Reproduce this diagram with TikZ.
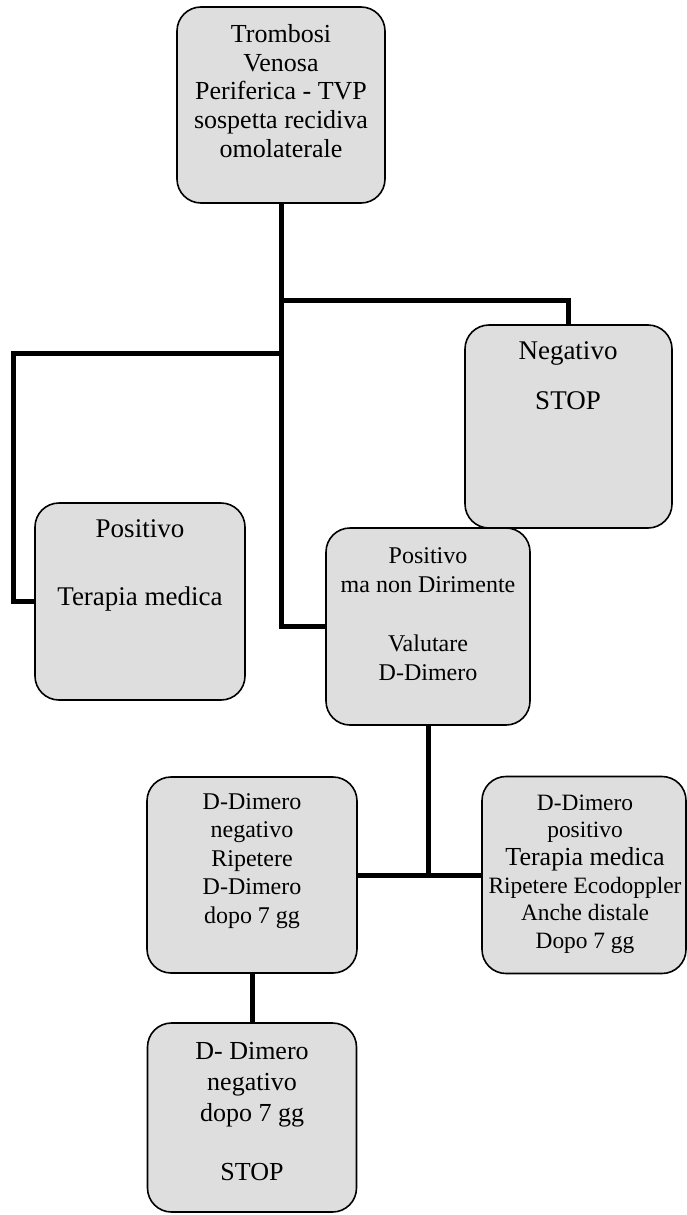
\documentclass[tikz,border=0pt]{standalone}
\usepackage{fontspec}
\setmainfont{Liberation Serif}
\usepackage{tikz}
\usetikzlibrary{positioning}
\tikzset{
    box/.style = {draw, rounded corners = 12pt, fill = black!13, line width = 0.8pt},
    txt/.style = {align = center, inner sep = 0pt},
    link/.style = {line width = 2.5pt},
}

\begin{document}
\begin{tikzpicture}[x = 0.5pt, y = -0.5pt]
    \useasboundingbox (0,0) rectangle (686,1215);

    % boxes
    \node (top)  [box, minimum width = 104pt, minimum height = 98pt]   at (281,105)   {};
    \node (neg)  [box, minimum width = 103.5pt, minimum height = 101.5pt] at (568.5,426.5) {};
    \node (pos)  [box, minimum width = 105pt, minimum height = 98.5pt] at (140,601.5)  {};
    \node (mid)  [box, minimum width = 102pt, minimum height = 98.5pt] at (428,626.5)  {};
    \node (dneg) [box, minimum width = 105pt, minimum height = 98pt]   at (252,875)    {};
    \node (dpos) [box, minimum width = 102pt, minimum height = 98.5pt] at (584,875)    {};
    \node (bot)  [box, minimum width = 104.5pt, minimum height = 94.5pt] at (252,1117.5) {};

    % texts
    \node (toptxt) [txt, font = \fontsize{13}{14.3}\selectfont] at (281,91)
        {Trombosi\\Venosa\\Periferica - TVP\\sospetta recidiva\\omolaterale};
    \node (negtxt) [txt, font = \fontsize{13.5}{15}\selectfont] at (568,376)
        {Negativo\\[10pt]STOP};
    \node (postxt) [txt, font = \fontsize{13.5}{15}\selectfont] at (140,565)
        {Positivo\\[19pt]Terapia medica};
    \node (midtxt) [txt, font = \fontsize{12}{14.5}\selectfont] at (428,614)
        {Positivo\\ma non Dirimente\\[15pt]Valutare\\D-Dimero};
    \node (dnegtxt) [txt, font = \fontsize{12}{14.3}\selectfont] at (252,861)
        {D-Dimero\\negativo\\Ripetere\\D-Dimero\\dopo 7 gg};
    \node (dpostxt) [txt, font = \fontsize{11.7}{13.8}\selectfont] at (585,874)
        {D-Dimero\\positivo\\{\fontsize{13}{14}\selectfont Terapia medica}\\Ripetere Ecodoppler\\Anche distale\\Dopo 7 gg};
    \node (bottxt) [txt, font = \fontsize{13}{15.5}\selectfont] at (252,1112)
        {D- Dimero\\negativo\\dopo 7 gg\\[14pt]STOP};

    % junctions
    \coordinate (jr) at (281,300);
    \coordinate (jl) at (281,353);
    \coordinate (lc) at (13,353);
    \coordinate (jm) at (mid.south |- dneg.east);

    % connectors
    \draw [link] (top.south) |- (mid.west);
    \draw [link] (jr) -| (neg.north);
    \draw [link] (jl) -- (lc) |- (pos.west);
    \draw [link] (mid.south) -- (jm);
    \draw [link] (dneg.east) -- (dpos.west);
    \draw [link] (dneg.south) -- (bot.north);
\end{tikzpicture}
\end{document}
